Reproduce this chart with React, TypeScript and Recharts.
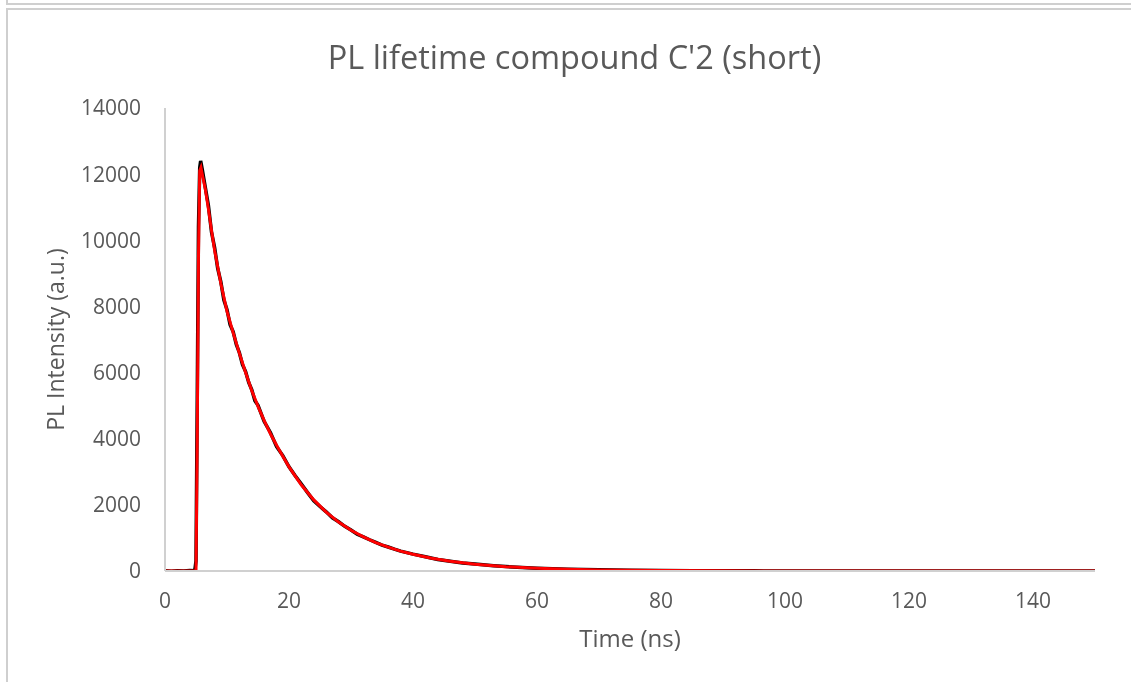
import React from 'react';
import { LineChart, Line, XAxis, YAxis, Label } from 'recharts';

const measuredTime = [
  0, 1, 2, 3, 4, 4.8, 5.0, 5.2, 5.4, 5.6,
  5.75, 6.0, 6.5, 7, 7.5, 8, 8.5, 9, 9.5, 10,
  10.5, 11, 11.5, 12, 12.5, 13, 13.5, 14, 14.5, 15,
  16, 17, 18, 19, 20, 21, 22, 23, 24, 25,
  26, 27, 28, 29, 30, 31, 32, 33, 34, 35,
  36, 37, 38, 39, 40, 42, 44, 46, 48, 50,
  53, 56, 60, 65, 70, 75, 80, 85, 90, 95,
  100, 110, 120, 130, 140, 150,
];
const measuredIntensity = [
  10, -5, 8, 0, 12, 5, 300, 5200, 10400, 12200,
  12400, 12150, 11600, 11050, 10250, 9780, 9150, 8750, 8190, 7900,
  7450, 7230, 6850, 6600, 6240, 6030, 5700, 5480, 5150, 5010,
  4520, 4190, 3760, 3490, 3150, 2880, 2630, 2370, 2120, 1950,
  1790, 1610, 1490, 1350, 1240, 1110, 1030, 945, 865, 780,
  725, 660, 600, 555, 510, 430, 350, 295, 245, 210,
  160, 122, 86, 54, 35, 22, 15, 10, 5, 4,
  3, 2, 1, 0, 2, 1,
];

const fitTime = [
  0, 2, 4, 5.0, 5.2, 5.4, 5.6, 5.8, 6.0, 6.5,
  7, 7.5, 8, 9, 10, 11, 12, 13, 14, 15,
  16, 17, 18, 19, 20, 22, 24, 26, 28, 30,
  32, 34, 36, 38, 40, 43, 46, 50, 55, 60,
  65, 70, 75, 80, 90, 100, 110, 120, 130, 140,
  150,
];
const fitIntensity = [
  0, 0, 0, 0, 4000, 9500, 12100, 12200, 12000, 11550,
  10950, 10300, 9700, 8700, 7850, 7200, 6580, 6000, 5450, 4980,
  4550, 4150, 3800, 3470, 3150, 2600, 2150, 1780, 1480, 1230,
  1030, 860, 720, 600, 505, 385, 295, 205, 130, 83,
  53, 34, 22, 14, 6, 2, 1, 0, 0, 0,
  0,
];

const xTicks = [0, 20, 40, 60, 80, 100, 120, 140];
const yTicks = [0, 2000, 4000, 6000, 8000, 10000, 12000, 14000];

const chartTitle = "PL lifetime compound C'2 (short)";
const xTitle = 'Time (ns)';
const yTitle = 'PL Intensity (a.u.)';

const measuredData = measuredTime.map((t, i) => ({ t, v: measuredIntensity[i] }));
const fitData = fitTime.map((t, i) => ({ t, v: fitIntensity[i] }));

const FONT = '"Open Sans", sans-serif';
const TEXT = '#595959';
const AXIS = '#d0d0d0';
const BORDER = '#cfcfcf';

export default function App() {
  return (
    <div
      style={{
        position: 'relative',
        margin: -8,
        width: 1131,
        height: 682,
        background: '#fff',
        overflow: 'hidden',
        fontFamily: FONT,
      }}
    >
      <div
        style={{
          position: 'fixed',
          left: 6,
          top: 0,
          width: 1140,
          height: 3,
          borderLeft: `2px solid ${BORDER}`,
          borderBottom: `2px solid ${BORDER}`,
          pointerEvents: 'none',
        }}
      />
      <div
        style={{
          position: 'fixed',
          left: 6,
          top: 8,
          width: 1140,
          height: 700,
          borderLeft: `2px solid ${BORDER}`,
          borderTop: `2px solid ${BORDER}`,
          pointerEvents: 'none',
        }}
      />
      <div
        style={{
          position: 'absolute',
          left: 7,
          top: 37,
          width: 1135,
          height: 40,
          lineHeight: '40px',
          textAlign: 'center',
          fontSize: 32.5,
          color: TEXT,
          whiteSpace: 'nowrap',
        }}
      >
        {chartTitle}
      </div>
      <div style={{ position: 'absolute', left: 0, top: 0 }}>
        <LineChart
          width={1131}
          height={682}
          margin={{ top: 108, right: 36, bottom: 31, left: 0 }}
        >
          <XAxis
            type="number"
            dataKey="t"
            domain={[0, 150]}
            ticks={xTicks}
            allowDataOverflow
            axisLine={{ stroke: AXIS, strokeWidth: 2 }}
            tickLine={false}
            tickSize={0}
            tickMargin={22}
            tick={{ fill: TEXT, fontSize: 21, fontFamily: FONT }}
            height={80}
          >
            <Label
              content={({ viewBox }: any) => (
                <text
                  x={viewBox.x + viewBox.width / 2}
                  y={viewBox.y + 70}
                  textAnchor="middle"
                  dominantBaseline="middle"
                  fill={TEXT}
                  fontSize={24}
                  fontFamily={FONT}
                >
                  {xTitle}
                </text>
              )}
            />
          </XAxis>
          <YAxis
            type="number"
            domain={[0, 14000]}
            ticks={yTicks}
            allowDataOverflow
            axisLine={{ stroke: AXIS, strokeWidth: 2 }}
            tickLine={false}
            tickSize={0}
            tickMargin={24}
            tick={{ fill: TEXT, fontSize: 21, fontFamily: FONT }}
            width={165}
          >
            <Label
              content={({ viewBox }: any) => {
                const cx = viewBox.x + 58;
                const cy = viewBox.y + viewBox.height / 2;
                return (
                  <text
                    x={cx}
                    y={cy}
                    transform={`rotate(-90 ${cx} ${cy})`}
                    textAnchor="middle"
                    dominantBaseline="middle"
                    fill={TEXT}
                    fontSize={23}
                    fontFamily={FONT}
                  >
                    {yTitle}
                  </text>
                );
              }}
            />
          </YAxis>
          <Line
            data={measuredData}
            dataKey="v"
            type="linear"
            stroke="#000000"
            strokeWidth={3.5}
            dot={false}
            isAnimationActive={false}
          />
          <Line
            data={fitData}
            dataKey="v"
            type="linear"
            stroke="#ff0000"
            strokeWidth={3}
            dot={false}
            isAnimationActive={false}
          />
        </LineChart>
      </div>
    </div>
  );
}
